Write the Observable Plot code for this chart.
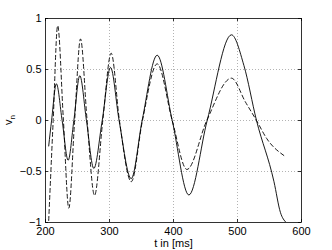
<!DOCTYPE html>
<html>
<head>
<meta charset="utf-8">
<script src="https://cdn.jsdelivr.net/npm/d3@7"></script>
<script src="https://cdn.jsdelivr.net/npm/@observablehq/plot@0.6"></script>
<style>
  html, body { margin: 0; padding: 0; background: #fff; }
  #chart { width: 332px; height: 250px; }
</style>
</head>
<body>
<div id="chart"></div>
<script>
// ---- data ----
const xTicks = [200, 300, 400, 500, 600];
const yTicks = [-1, -0.5, 0, 0.5, 1];
const yTickLabels = ["\u22121", "\u22120.5", "0", "0.5", "1"];
const xLabel = "t in [ms]";
const yLabelMain = "v";
const yLabelSub = "n";

// solid series
const tSolid = [205, 209.5, 217, 226, 235.4, 244.3, 253.6, 264, 275.5, 288.6, 301.6, 315, 333.9, 351, 374.5, 398, 424, 452.6, 490.6, 510, 529.7, 557, 567, 576];
const vSolid = [-0.25, 0, 0.36, 0, -0.39, 0, 0.44, 0, -0.47, 0, 0.52, 0, -0.57, 0, 0.64, 0, -0.73, 0, 0.84, 0.54, 0, -0.60, -0.90, -1.0];

// dashed series
const tDashed = [205, 212, 219, 228, 236.4, 245.5, 254.7, 265, 276.6, 289.5, 302.6, 315.5, 334, 351.5, 374.5, 398, 421, 452, 490.6, 512.5, 529.7, 546, 574];
const vDashed = [-0.98, 0, 0.93, 0, -0.86, 0, 0.80, 0, -0.735, 0, 0.66, 0, -0.60, 0, 0.555, 0, -0.48, 0, 0.415, 0.18, 0, -0.18, -0.35];

// ---- build tables ----
const solid = tSolid.map((t, i) => ({t, v: vSolid[i]}));
const dashed = tDashed.map((t, i) => ({t, v: vDashed[i]}));

const xDomain = [xTicks[0], xTicks[xTicks.length - 1]];
const yDomain = [yTicks[0], yTicks[yTicks.length - 1]];
const W = 332, H = 250;
const mL = 45, mR = 31, mT = 18, mB = 28;
const tickPx = 3;
const dx = tickPx * (xDomain[1] - xDomain[0]) / (W - mL - mR);
const dy = tickPx * (yDomain[1] - yDomain[0]) / (H - mT - mB);

const gridStyle = {stroke: "#a0a0a0", strokeOpacity: 1, strokeWidth: 0.8, strokeDasharray: "1,2"};

const chart = Plot.plot({
  width: W,
  height: H,
  marginLeft: mL,
  marginRight: mR,
  marginTop: mT,
  marginBottom: mB,
  style: {fontFamily: "'Liberation Sans', Arial, sans-serif", fontSize: "11px", background: "#fff", color: "#000"},
  x: {domain: xDomain, label: null},
  y: {domain: yDomain, label: null},
  marks: [
    Plot.ruleX(xTicks.slice(1, -1), {...gridStyle}),
    Plot.ruleY(yTicks.slice(1, -1), {...gridStyle}),
    Plot.line(dashed, {x: "t", y: "v", curve: "monotone-x", stroke: "#000", strokeWidth: 0.9, strokeDasharray: "4,3", clip: true}),
    Plot.line(solid, {x: "t", y: "v", curve: "monotone-x", stroke: "#000", strokeWidth: 0.9, clip: true}),
    // inward ticks (MATLAB style)
    Plot.ruleX(xTicks, {y1: yDomain[0], y2: yDomain[0] + dy, stroke: "#000", strokeWidth: 0.8}),
    Plot.ruleX(xTicks, {y1: yDomain[1], y2: yDomain[1] - dy, stroke: "#000", strokeWidth: 0.8}),
    Plot.ruleY(yTicks, {x1: xDomain[0], x2: xDomain[0] + dx, stroke: "#000", strokeWidth: 0.8}),
    Plot.ruleY(yTicks, {x1: xDomain[1], x2: xDomain[1] - dx, stroke: "#000", strokeWidth: 0.8}),
    Plot.frame({stroke: "#000", strokeWidth: 0.8}),
    Plot.axisX(xTicks, {tickSize: 0, tickPadding: 5, fontSize: 11, tickFormat: d => String(d)}),
    Plot.axisY(yTicks, {tickSize: 0, tickPadding: 4, fontSize: 11, tickFormat: d => yTickLabels[yTicks.indexOf(d)]}),
    Plot.text([xLabel], {frameAnchor: "bottom", dy: 21, lineAnchor: "middle", fontSize: 11})
  ]
});

// y label with subscript
const svg = d3.select(chart);
const yl = svg.append("text")
  .attr("transform", `translate(12,${mT + (H - mT - mB) / 2}) rotate(-90)`)
  .attr("text-anchor", "middle")
  .attr("font-size", 11)
  .attr("fill", "#000");
yl.append("tspan").text(yLabelMain);
yl.append("tspan").attr("dy", 3).attr("font-size", 8).text(yLabelSub);

document.getElementById("chart").appendChild(chart);
</script>
</body>
</html>
